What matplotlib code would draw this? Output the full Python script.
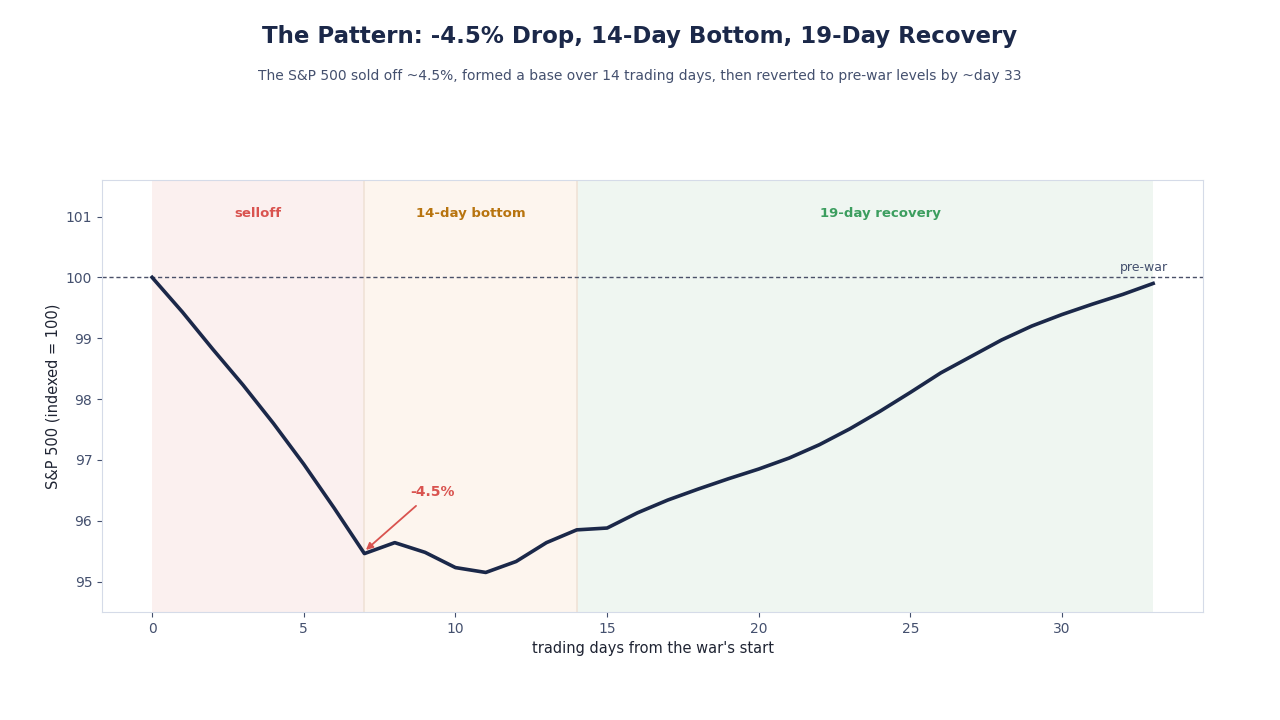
import matplotlib
matplotlib.use("Agg")
import matplotlib.pyplot as plt

# S&P 500 indexed to 100 at the war's start
days = list(range(34))
spx = [100.00, 99.43, 98.82, 98.23, 97.60, 96.93, 96.21, 95.46,
       95.64, 95.48, 95.23, 95.15, 95.33, 95.64, 95.85, 95.88,
       96.13, 96.34, 96.52, 96.69, 96.85, 97.03, 97.25, 97.51,
       97.80, 98.11, 98.43, 98.70, 98.97, 99.20, 99.39, 99.56,
       99.72, 99.90]

phase_names = ["selloff", "14-day bottom", "19-day recovery"]
phase_start = [0, 7, 14]
phase_end = [7, 14, 33]
phase_label_x = [3.5, 10.5, 24]
phase_fill = ["#fbf0ef", "#fdf5ee", "#eff6f1"]
phase_text = ["#d9534f", "#b8740f", "#3c9e5f"]

navy = "#1b2849"
tick_col = "#44506e"

fig = plt.figure(figsize=(12.8, 7.2), dpi=100)
ax = fig.add_axes([0.0797, 0.15, 0.8603, 0.60])

for name, s, e, lx, fc, tc in zip(phase_names, phase_start, phase_end, phase_label_x,
                                  phase_fill, phase_text):
    ax.axvspan(s, e, facecolor=fc, edgecolor="none", zorder=0)
    ax.text(lx, 101.05, name, ha="center", va="center",
            fontsize=9.5, fontweight="bold", color=tc)
for s in phase_start[1:]:
    ax.axvline(s, color="#f0e2d6", lw=1.2, zorder=0.5)

ax.axhline(100, color="#4a5068", lw=1, ls=(0, (3, 2)), zorder=1)
ax.text(32.7, 100.16, "pre-war", ha="center", va="center", fontsize=9, color=tick_col)

ax.plot(days, spx, color=navy, lw=2.6, zorder=3)

ax.annotate("-4.5%", xy=(7.05, 95.52), xytext=(9.24, 96.48),
            ha="center", va="center", fontsize=10, fontweight="bold", color="#d9534f",
            arrowprops=dict(arrowstyle="-|>", color="#d9534f", lw=1.3,
                            mutation_scale=10, shrinkA=5, shrinkB=0))

ax.set_xlim(-1.65, 34.65)
ax.set_ylim(94.5, 101.6)
ax.set_xticks([0, 5, 10, 15, 20, 25, 30])
ax.set_yticks([95, 96, 97, 98, 99, 100, 101])
ax.tick_params(colors=tick_col, labelsize=10)
for sp in ax.spines.values():
    sp.set_color("#d5dbe8")
ax.set_xlabel("trading days from the war's start", fontsize=10.5, color="#1f2433")
ax.set_ylabel("S&P 500 (indexed = 100)", fontsize=10.5, color="#1f2433")

fig.text(0.5, 0.95, "The Pattern: -4.5% Drop, 14-Day Bottom, 19-Day Recovery",
         ha="center", va="center", fontsize=16.5, fontweight="bold", color=navy)
fig.text(0.5, 0.894, "The S&P 500 sold off ~4.5%, formed a base over 14 trading days, then reverted to pre-war levels by ~day 33",
         ha="center", va="center", fontsize=10, color=tick_col)

fig.savefig("out.png", dpi=100, facecolor="white")
